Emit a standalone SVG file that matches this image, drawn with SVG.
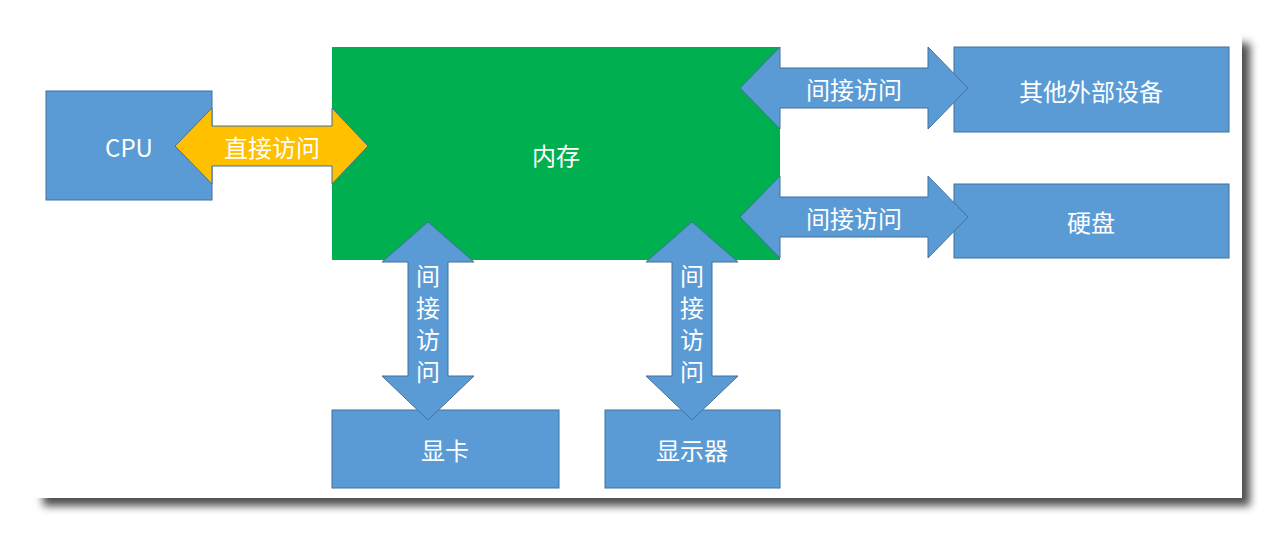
<svg xmlns="http://www.w3.org/2000/svg" width="1277" height="534" viewBox="0 0 1277 534">
<defs>
<filter id="sh" x="-5%" y="-5%" width="115%" height="120%"><feGaussianBlur in="SourceAlpha" stdDeviation="4"/><feOffset dx="8" dy="8"/><feComponentTransfer><feFuncA type="linear" slope="0.7"/></feComponentTransfer><feMerge><feMergeNode/><feMergeNode in="SourceGraphic"/></feMerge></filter>
</defs>
<style>
.b{fill:#5B9BD5;stroke:#41719C;stroke-width:1}
.a{fill:#5B9BD5;stroke:#41719C;stroke-width:1}
.y{fill:#FFC000;stroke:#41719C;stroke-width:1}
text{font-family:"Noto Sans CJK SC","Liberation Sans",sans-serif;font-size:24px;fill:#fff;text-anchor:middle;dominant-baseline:central}
</style>
<rect width="1277" height="534" fill="#fff"/>
<rect x="35" y="35" width="1207" height="463" fill="#fff" filter="url(#sh)"/>
<g id="mem"><rect x="332" y="47" width="448" height="213" fill="#00B050"/><text x="556" y="154">内存</text></g>
<g id="cpu"><rect class="b" x="46" y="91" width="166" height="109"/><text x="129" y="146">CPU</text></g>
<g id="other"><rect class="b" x="954" y="47" width="275" height="85"/><text x="1091" y="90">其他外部设备</text></g>
<g id="disk"><rect class="b" x="954" y="184" width="275" height="74"/><text x="1091" y="221">硬盘</text></g>
<g id="gpu"><rect class="b" x="332" y="410" width="227" height="78"/><text x="445" y="449">显卡</text></g>
<g id="disp"><rect class="b" x="605" y="410" width="175" height="78"/><text x="692" y="449">显示器</text></g>
<g id="connectors">
<polygon class="y" points="175,146 212,108 212,126 332,126 332,108 368,146 332,184 332,166 212,166 212,184"/>
<text x="272" y="146">直接访问</text>
<polygon class="a" points="740,88 780,47 780,68 928,68 928,47 968,88 928,129 928,108 780,108 780,129"/>
<text x="854" y="88">间接访问</text>
<polygon class="a" points="740,217 780,176 780,197 928,197 928,176 968,217 928,258 928,237 780,237 780,258"/>
<text x="854" y="217">间接访问</text>
<polygon class="a" points="428,222 474,262 448,262 448,376 474,376 428,420 382,376 408,376 408,262 382,262"/>
<text x="428" y="274">间</text><text x="428" y="306">接</text><text x="428" y="338">访</text><text x="428" y="370">问</text>
<polygon class="a" points="692,222 738,262 712,262 712,376 738,376 692,420 646,376 672,376 672,262 646,262"/>
<text x="692" y="274">间</text><text x="692" y="306">接</text><text x="692" y="338">访</text><text x="692" y="370">问</text>
</g>
</svg>
